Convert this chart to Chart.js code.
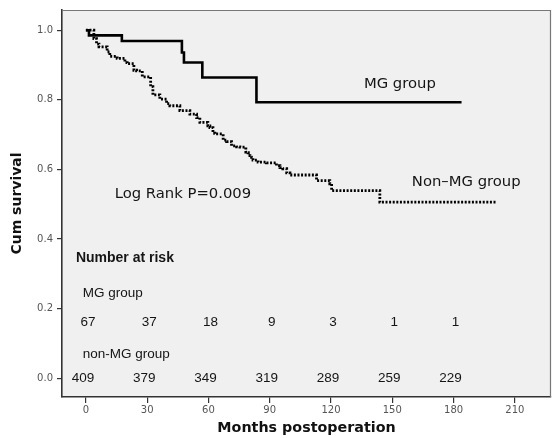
<!DOCTYPE html>
<html><head><meta charset="utf-8">
<script src="https://cdn.jsdelivr.net/npm/chart.js@4.4.0/dist/chart.umd.min.js"></script>
<style>html,body{margin:0;padding:0;background:#fff}#wrap{width:552px;height:438px}</style>
</head><body><div id="wrap"><canvas id="c" width="552" height="438"></canvas></div>
<script>
// ---- data ----
const mgMonths    = [0, 1.5, 17.6, 47, 48, 57, 83.5, 183.9];
const mgSurvival  = [1.0, 0.985, 0.969, 0.936, 0.907, 0.864, 0.793, 0.793];
const nonMgMonths   = [0, 3.9, 5.2, 6.4, 10.4, 11.7, 15.3, 19.1, 20.2, 23.5, 24.8, 27.6, 31.7, 32.8, 36.2, 39.5, 41.1, 46.0, 50.9, 54.2, 55.8, 59.7, 60.7, 62.2, 63.1, 67.2, 68.9, 71.3, 73.8, 75.4, 78.3, 79.4, 80.3, 81.1, 81.8, 84.3, 88.4, 93.3, 95.0, 96.4, 98.3, 99.9, 112.9, 119.4, 120.3, 143.9, 201.0];
const nonMgSurvival = [1.0, 0.976, 0.960, 0.952, 0.938, 0.925, 0.919, 0.907, 0.904, 0.885, 0.883, 0.866, 0.838, 0.814, 0.802, 0.789, 0.783, 0.769, 0.759, 0.749, 0.735, 0.725, 0.720, 0.704, 0.702, 0.684, 0.680, 0.668, 0.665, 0.664, 0.650, 0.648, 0.640, 0.635, 0.627, 0.621, 0.619, 0.611, 0.605, 0.602, 0.590, 0.584, 0.568, 0.559, 0.539, 0.506, 0.506];
const xTicks = [0, 30, 60, 90, 120, 150, 180, 210];
const yTicks = [0, 0.2, 0.4, 0.6, 0.8, 1.0];
const atRiskMonths = [0, 30, 60, 90, 120, 150, 180];
const mgAtRisk    = [67, 37, 18, 9, 3, 1, 1];
const nonMgAtRisk = [409, 379, 349, 319, 289, 259, 229];

const LUC = 'DejaVu Sans', ARIAL = 'Liberation Sans, Arial, sans-serif';

// text annotations (anchored in data space)
const labels = [
  {text:'MG group', x:153.7, y:0.846, align:'center', font:'14.8px ' + LUC},
  {text:'Non\u2013MG group', x:186.2, y:0.563, align:'center', font:'14.8px ' + LUC},
  {text:'Log Rank P=0.009', x:47.5, y:0.528, align:'center', font:'14.8px ' + LUC},
  {text:'Number at risk', x:-4.9, y:0.345, align:'left', font:'bold 14px ' + ARIAL},
  {text:'MG group', x:-1.5, y:0.244, align:'left', font:'13.5px ' + ARIAL},
  {text:'non-MG group', x:-1.5, y:0.070, align:'left', font:'13.5px ' + ARIAL}
];

const bgPlugin = {
  id:'bg',
  beforeDraw(chart){
    const {ctx, chartArea:a} = chart;
    ctx.save();
    ctx.fillStyle = '#f0f0f0';
    ctx.fillRect(a.left, a.top, a.right - a.left, a.bottom - a.top);
    ctx.restore();
  },
  afterDraw(chart){
    const {ctx, chartArea:a} = chart;
    ctx.save();
    ctx.strokeStyle = '#777';
    ctx.lineWidth = 1.2;
    ctx.beginPath();
    ctx.moveTo(a.left, a.top + 0.5);
    ctx.lineTo(a.right - 0.5, a.top + 0.5);
    ctx.lineTo(a.right - 0.5, a.bottom);
    ctx.stroke();
    ctx.restore();
  }
};

const textPlugin = {
  id:'texts',
  afterDatasetsDraw(chart){
    const {ctx, scales:{x, y}} = chart;
    ctx.save();
    ctx.textBaseline = 'middle';
    ctx.fillStyle = '#151515';
    labels.forEach(l => {
      ctx.font = l.font;
      ctx.textAlign = l.align;
      ctx.fillText(l.text, x.getPixelForValue(l.x), y.getPixelForValue(l.y));
    });
    ctx.font = '13.5px ' + ARIAL;
    ctx.textAlign = 'center';
    atRiskMonths.forEach((m, i) => {
      ctx.fillText(String(mgAtRisk[i]), x.getPixelForValue(m) + 2, y.getPixelForValue(0.162));
      ctx.fillText(String(nonMgAtRisk[i]), x.getPixelForValue(m) - 3, y.getPixelForValue(0.001));
    });
    ctx.restore();
  }
};

const tickFont = {family: LUC, size: 10};
new Chart(document.getElementById('c'), {
  type:'line',
  data:{
    datasets:[
      {label:'MG group', data: mgMonths.map((m,i)=>({x:m, y:mgSurvival[i]})),
       stepped:true, borderColor:'#000', borderWidth:2.6, pointRadius:0, fill:false},
      {label:'Non-MG group', data: nonMgMonths.map((m,i)=>({x:m, y:nonMgSurvival[i]})),
       stepped:true, borderColor:'#000', borderWidth:2.8, borderDash:[2,1.6], pointRadius:0, fill:false}
    ]
  },
  options:{
    responsive:false, animation:false, devicePixelRatio:1,
    layout:{padding:{top:9, right:1, left:0, bottom:0}},
    plugins:{legend:{display:false}, tooltip:{enabled:false}},
    scales:{
      x:{type:'linear', min:-11.7, max:227.7,
         afterBuildTicks:s=>{ s.ticks = xTicks.map(v=>({value:v})); },
         afterFit:s=>{ s.height = 41; },
         ticks:{font:tickFont, color:'#555', padding:1, autoSkip:false, maxRotation:0, callback:v=>String(v)},
         grid:{drawOnChartArea:false, tickLength:6, color:'#333', lineWidth:1.2},
         border:{color:'#333', width:1.6},
         title:{display:true, text:'Months postoperation', color:'#111',
                font:{family:LUC, size:14.3, weight:'bold'}, padding:{top:0, bottom:1}}},
      y:{type:'linear', min:-0.0536, max:1.058,
         afterBuildTicks:s=>{ s.ticks = yTicks.map(v=>({value:v})); },
         afterFit:s=>{ s.width = 62; },
         ticks:{font:tickFont, color:'#555', padding:4, autoSkip:false, callback:v=>Number(v).toFixed(1)},
         grid:{drawOnChartArea:false, tickLength:5, color:'#333', lineWidth:1.2},
         border:{color:'#333', width:1.6},
         title:{display:true, text:'Cum survival', color:'#111',
                font:{family:LUC, size:14, weight:'bold'}, padding:{top:9, bottom:0}}}
    }
  },
  plugins:[bgPlugin, textPlugin]
});
</script>
</body></html>
